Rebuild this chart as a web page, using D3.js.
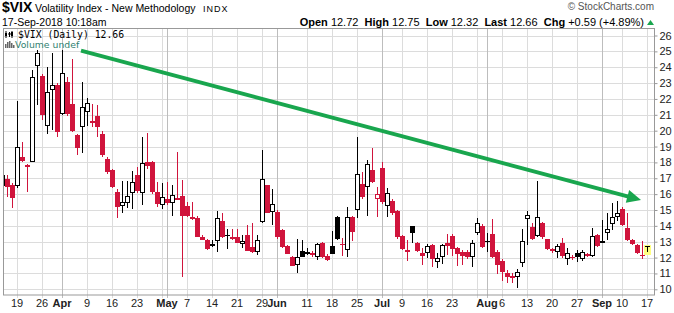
<!DOCTYPE html>
<html>
<head>
<meta charset="utf-8">
<script src="https://cdn.jsdelivr.net/npm/d3@7"></script>
<style>
  body { margin: 0; background: #fff; }
  svg { display: block; font-family: "Liberation Sans", Arial, sans-serif; }
</style>
</head>
<body>
<div id="chart"></div>
<script>
'use strict'

// trading days on the chart: weekdays from first to last day, minus exchange holidays
const firstDay = '2018-03-14'
const lastDay = '2018-09-17'
const holidays = ['2018-03-30', '2018-05-28', '2018-07-04', '2018-09-03']

// daily OHLC, one value per trading day
const open = [
  16.5, 16.94, 16.55, 16.53, 18.36, 17.7, 18.05, 24.08, 23.45, 20.3, 22.57, 22.88,
  21.05, 23.1, 21.68, 19.73, 20.25, 21.2, 20.6, 20.93, 19.8, 18.22, 17.52, 16.15,
  15.25, 15.46, 16.09, 17.21, 16.09, 18.05, 18.05, 16.15, 15.32, 15.67, 15.42, 15.67,
  15.86, 15.25, 14.43, 14.51, 13.28, 13.11, 12.82, 13.04, 14.31, 13.45, 13.15, 13.32,
  12.85, 13.42, 12.69, 12.33, 14.26, 16.58, 14.86, 14.86, 13.74, 12.75, 12.02, 11.53,
  12.43, 12.37, 12.27, 12.02, 12.94, 12.12, 12.73, 14.58, 12.85, 12.48, 14.54, 15.0,
  16.64, 16.43, 17.52, 15.67, 17.67, 15.27, 15.57, 14.94, 13.36, 12.37, 13.99, 12.94,
  12.31, 12.31, 12.79, 11.74, 12.06, 12.9, 13.36, 12.58, 12.37, 12.37, 12.06, 13.53,
  13.99, 13.02, 13.47, 12.37, 11.8, 11.05, 10.86, 10.79, 11.68, 14.41, 13.9, 13.36,
  14.16, 13.15, 12.52, 12.37, 12.94, 11.89, 12.06, 12.27, 11.89, 12.23, 12.1, 13.42,
  13.04, 13.57, 14.12, 14.58, 15.04, 13.85, 13.11, 12.79, 12.15, 12.72
]
const high = [
  17.3, 17.2, 16.7, 21.9, 19.3, 17.9, 23.8, 25.1, 23.6, 24.0, 24.9, 23.0,
  25.1, 23.4, 24.5, 19.8, 23.1, 22.04, 21.7, 21.6, 19.95, 18.36, 17.6, 16.3,
  16.83, 16.83, 17.46, 17.73, 19.62, 19.83, 18.1, 16.78, 16.68, 16.78, 16.58, 18.65,
  16.89, 15.52, 15.52, 14.6, 13.4, 13.2, 13.11, 14.94, 14.79, 13.8, 13.78, 13.78,
  13.42, 14.05, 14.2, 13.42, 18.78, 16.6, 16.31, 15.0, 13.8, 12.8, 12.1, 13.17,
  13.11, 12.58, 12.4, 12.9, 13.0, 12.2, 13.68, 14.65, 13.21, 15.21, 14.6, 19.58,
  17.42, 18.15, 18.93, 16.43, 18.0, 16.41, 15.7, 15.0, 13.4, 13.11, 14.0, 13.0,
  12.6, 12.85, 12.85, 12.31, 12.85, 13.47, 13.47, 12.65, 12.5, 12.5, 13.1, 14.48,
  14.1, 13.53, 14.41, 12.5, 11.9, 11.2, 11.0, 11.26, 13.78, 14.94, 14.2, 16.83,
  14.26, 13.2, 12.6, 12.85, 13.21, 12.58, 12.15, 12.45, 12.45, 12.3, 13.85, 13.5,
  14.37, 14.79, 15.42, 15.57, 15.17, 14.79, 13.2, 12.85, 13.06, 12.75
]
const low = [
  16.4, 15.84, 15.15, 16.4, 18.0, 16.15, 18.0, 21.6, 20.7, 19.8, 20.05, 19.58,
  21.0, 20.9, 19.9, 18.47, 18.57, 20.3, 20.25, 19.58, 18.36, 17.3, 16.37, 14.48,
  14.83, 15.1, 15.04, 16.1, 15.32, 17.6, 16.0, 15.2, 15.04, 15.3, 14.64, 15.6,
  10.76, 14.55, 14.4, 13.3, 13.08, 12.45, 12.69, 12.37, 13.25, 12.52, 13.1, 12.9,
  12.58, 12.4, 12.3, 12.16, 14.2, 14.8, 14.05, 13.2, 12.6, 12.2, 11.45, 11.05,
  12.03, 12.15, 12.05, 11.85, 11.95, 11.8, 12.2, 13.1, 12.1, 12.06, 13.06, 14.48,
  15.7, 14.62, 16.7, 14.54, 15.4, 14.58, 14.7, 13.2, 12.45, 11.8, 12.94, 12.35,
  11.53, 12.0, 11.42, 11.32, 11.6, 12.16, 12.1, 11.49, 11.53, 11.9, 11.42, 13.4,
  12.6, 12.37, 12.0, 10.96, 10.54, 10.42, 10.4, 10.06, 11.42, 12.79, 13.1, 13.3,
  13.2, 12.45, 12.3, 11.95, 11.95, 11.53, 11.85, 11.75, 11.8, 12.05, 12.05, 12.65,
  12.95, 13.11, 13.74, 14.3, 14.0, 13.05, 12.8, 12.2, 11.9, 12.32
]
const close = [
  17.2, 16.47, 15.75, 18.95, 18.1, 17.85, 23.37, 24.88, 21.0, 22.46, 22.86, 19.94,
  23.62, 21.05, 20.0, 18.89, 21.47, 21.77, 20.47, 20.21, 18.47, 17.42, 16.47, 15.17,
  15.52, 15.88, 16.78, 16.17, 17.94, 17.8, 16.15, 15.37, 15.84, 15.42, 15.95, 15.78,
  14.65, 14.62, 14.58, 13.32, 13.11, 12.52, 12.86, 14.51, 13.32, 13.42, 13.32, 12.94,
  13.06, 12.43, 12.37, 13.11, 16.94, 14.83, 15.36, 13.32, 12.69, 12.23, 11.49, 12.02,
  12.06, 12.21, 12.16, 12.84, 12.06, 11.85, 12.23, 13.16, 12.8, 14.54, 13.63, 17.27,
  15.84, 17.88, 16.78, 15.99, 15.52, 16.06, 14.83, 13.28, 12.54, 12.5, 13.53, 12.43,
  12.1, 12.73, 11.89, 11.95, 12.79, 12.75, 12.52, 12.23, 12.1, 12.02, 12.9, 14.16,
  12.69, 13.0, 12.06, 11.53, 11.11, 10.79, 10.69, 11.11, 13.04, 14.68, 13.15, 14.54,
  13.28, 12.52, 12.41, 12.75, 12.1, 12.27, 11.95, 12.02, 12.37, 12.1, 13.36, 12.73,
  13.06, 13.8, 14.54, 14.79, 14.05, 13.11, 12.86, 12.27, 12.07, 12.66
]
const prevClose = 16.3 // close of the day before the first bar

// axis labels
const yTicks = d3.range(10, 27)
const dayLabels = [
  ['2018-03-19', '19'], ['2018-03-26', '26'], ['2018-04-09', '9'], ['2018-04-16', '16'],
  ['2018-04-23', '23'], ['2018-05-07', '7'], ['2018-05-14', '14'], ['2018-05-21', '21'],
  ['2018-05-29', '29'], ['2018-06-11', '11'], ['2018-06-18', '18'], ['2018-06-25', '25'],
  ['2018-07-09', '9'], ['2018-07-16', '16'], ['2018-07-23', '23'], ['2018-08-06', '6'],
  ['2018-08-13', '13'], ['2018-08-20', '20'], ['2018-08-27', '27'], ['2018-09-10', '10'],
  ['2018-09-17', '17']
]
const monthLabels = [
  ['2018-04-02', 'Apr'], ['2018-05-01', 'May'], ['2018-06-01', 'Jun'],
  ['2018-07-02', 'Jul'], ['2018-08-01', 'Aug'], ['2018-09-04', 'Sep']
]
// week grid lines without a label
const extraWeekLines = ['2018-04-30', '2018-07-30']

// hand-drawn trend arrow: [day, fraction of a day after it, value]
const trendFrom = ['2018-04-05', 0.8, 25.05]
const trendTo = ['2018-09-13', 0.8, 15.63]

// header quote
const quote = [['Open', '12.72'], ['High', '12.75'], ['Low', '12.32'], ['Last', '12.66'], ['Chg', '+0.59 (+4.89%)']]

const W = 674
const H = 313
const plot = { left: 3, right: 654, top: 28.5, bottom: 295 }
const step = 5
const bodyW = 5
const red = '#d0143c'
const green = '#19a64e'

const parse = d3.utcParse('%Y-%m-%d')
const fmt = d3.utcFormat('%Y-%m-%d')
const days = d3.utcDays(parse(firstDay), d3.utcDay.offset(parse(lastDay), 1))
  .filter(d => d.getUTCDay() % 6 !== 0 && !holidays.includes(fmt(d)))
const dayIndex = new Map(days.map((d, i) => [fmt(d), i]))

const bars = days.map((d, i) => ({
  i, o: open[i], h: high[i], l: low[i], c: close[i],
  pc: i === 0 ? prevClose : close[i - 1]
}))

const x = d3.scaleLinear()
  .domain([0, days.length - 1])
  .range([plot.left - 1, plot.left - 1 + step * (days.length - 1)])

const y = d3.scaleLinear()
  .domain([10, 26])
  .range([289.3, 35.5])

const svg = d3.select('#chart')
  .append('svg')
    .attr('width', W)
    .attr('height', H)

// ---- header ----
svg.append('text')
  .attr('x', 2).attr('y', 12)
  .style('font-size', '14px').style('font-weight', 'bold')
  .text('$VIX')
svg.append('text')
  .attr('x', 35).attr('y', 12)
  .style('font-size', '10.5px')
  .text('Volatility Index - New Methodology')
svg.append('text')
  .attr('x', 203).attr('y', 11.5)
  .style('font-size', '9px').style('letter-spacing', '1px')
  .text('INDX')
svg.append('text')
  .attr('x', 2).attr('y', 25.5)
  .style('font-size', '10.5px')
  .text('17-Sep-2018 10:18am')
svg.append('text')
  .attr('x', 654).attr('y', 10)
  .attr('text-anchor', 'end')
  .style('font-size', '10px').style('fill', '#555')
  .text('\u00a9 StockCharts.com')

const q = svg.append('text')
  .attr('x', 644).attr('y', 25.5)
  .attr('text-anchor', 'end')
  .style('font-size', '11px')
quote.forEach(([k, v], j) => {
  q.append('tspan').style('font-weight', 'bold').text((j ? '  ' : '') + k)
  q.append('tspan').text(' ' + v)
})
q.attr('xml:space', 'preserve')
svg.append('path')
  .attr('d', 'M647,25L650.5,20L654,25Z')
  .attr('fill', green)

// ---- grid ----
const g = svg.append('g')

g.selectAll('.hgrid')
  .data(yTicks)
  .join('line')
    .attr('x1', plot.left).attr('x2', plot.right)
    .attr('y1', d => Math.round(y(d)) + 0.5).attr('y2', d => Math.round(y(d)) + 0.5)
    .attr('stroke', '#dcdcdc')

const weekDates = dayLabels.map(d => d[0]).concat(extraWeekLines)
g.selectAll('.vgrid')
  .data(weekDates)
  .join('line')
    .attr('x1', d => Math.round(x(dayIndex.get(d))) + 0.5)
    .attr('x2', d => Math.round(x(dayIndex.get(d))) + 0.5)
    .attr('y1', plot.top).attr('y2', plot.bottom + 3)
    .attr('stroke', '#dcdcdc')

g.selectAll('.mgrid')
  .data(monthLabels)
  .join('line')
    .attr('x1', d => Math.round(x(dayIndex.get(d[0]))) + 0.5)
    .attr('x2', d => Math.round(x(dayIndex.get(d[0]))) + 0.5)
    .attr('y1', plot.top).attr('y2', plot.bottom + 3)
    .attr('stroke', '#bdbdbd')

// frame
g.append('rect')
  .attr('x', plot.left + 0.5).attr('y', plot.top)
  .attr('width', plot.right - plot.left).attr('height', plot.bottom - plot.top)
  .attr('fill', 'none').attr('stroke', '#999')

// ---- axes ----
const yAxis = d3.axisRight(y)
  .tickValues(yTicks)
  .tickSize(3)
  .tickPadding(2)
  .tickFormat(d3.format('d'))
svg.append('g')
  .attr('transform', `translate(${plot.right + 0.5},0)`)
  .call(yAxis)
  .call(a => a.select('.domain').remove())
  .call(a => a.selectAll('line').attr('stroke', '#999'))
  .call(a => a.selectAll('text')
    .style('font-family', '"Liberation Sans", Arial, sans-serif')
    .style('font-size', '11px').attr('fill', '#222'))

const xl = svg.append('g')
xl.selectAll('.dl')
  .data(dayLabels)
  .join('text')
    .attr('x', d => x(dayIndex.get(d[0])))
    .attr('y', 306.5)
    .attr('text-anchor', 'middle')
    .style('font-size', '11px').attr('fill', '#222')
    .text(d => d[1])
xl.selectAll('.ml')
  .data(monthLabels)
  .join('text')
    .attr('x', d => x(dayIndex.get(d[0])))
    .attr('y', 306.5)
    .attr('text-anchor', 'middle')
    .style('font-size', '11px').style('font-weight', 'bold').attr('fill', '#222')
    .text(d => d[1])

// ---- candles ----
svg.append('clipPath').attr('id', 'plotclip')
  .append('rect')
    .attr('x', plot.left + 1).attr('y', plot.top)
    .attr('width', plot.right - plot.left - 1).attr('height', plot.bottom - plot.top)

const cg = svg.append('g').attr('clip-path', 'url(#plotclip)')
  .attr('shape-rendering', 'crispEdges')

const colorOf = d => d.c >= d.pc ? '#000' : red
const hollow = d => d.c > d.o

// last bar highlight
const lastBar = bars[bars.length - 1]
cg.append('rect')
  .attr('x', Math.round(x(lastBar.i)) - 3)
  .attr('y', y(lastBar.h) - 1)
  .attr('width', 7)
  .attr('height', y(lastBar.l) - y(lastBar.h) + 4)
  .attr('fill', '#ffff80')

const candle = cg.selectAll('.candle')
  .data(bars)
  .join('g')
    .attr('transform', d => `translate(${Math.round(x(d.i))},0)`)

candle.append('line')
  .attr('x1', 0.5).attr('x2', 0.5)
  .attr('y1', d => y(d.h)).attr('y2', d => y(d.l))
  .attr('stroke', colorOf)

candle.append('rect')
  .attr('x', d => hollow(d) ? -1.5 : -2)
  .attr('width', d => hollow(d) ? bodyW - 1 : bodyW)
  .attr('y', d => {
    const t = y(Math.max(d.o, d.c))
    return hollow(d) ? t + 0.5 : t
  })
  .attr('height', d => {
    const h = Math.max(1, Math.abs(y(d.o) - y(d.c)))
    return hollow(d) ? Math.max(1, h - 1) : h
  })
  .attr('fill', d => hollow(d) ? '#fff' : colorOf(d))
  .attr('stroke', d => hollow(d) ? colorOf(d) : 'none')

// ---- legend ----
const lg = svg.append('g')
// small candle icon
;[[6, 31, 38, 33, 36], [9.5, 32, 37, 33, 35], [12, 31, 38, 32, 36]].forEach(([cx, t, b, bt, bb]) => {
  lg.append('line').attr('x1', cx).attr('x2', cx).attr('y1', t).attr('y2', b).attr('stroke', '#000')
  lg.append('rect').attr('x', cx - 1).attr('y', bt).attr('width', 2).attr('height', bb - bt).attr('fill', '#000')
})
lg.append('text')
  .attr('x', 18).attr('y', 38)
  .style('font-family', '"DejaVu Sans Mono", monospace')
  .style('font-size', '9.8px')
  .text('$VIX (Daily) 12.66')
// volume icon
;[[5, 44], [7, 42], [9, 41], [11, 43], [13, 45]].forEach(([bx, t]) => {
  lg.append('rect').attr('x', bx).attr('y', t).attr('width', 1.5).attr('height', 48 - t).attr('fill', '#666')
})
lg.append('text')
  .attr('x', 15).attr('y', 47.5)
  .style('font-family', '"DejaVu Sans", sans-serif')
  .style('font-size', '9.3px').attr('fill', '#2f7f70')
  .text('Volume undef')

// ---- trend arrow ----
const tx = p => x(dayIndex.get(p[0]) + p[1])
const ty = p => y(p[2])
const x0 = tx(trendFrom), y0 = ty(trendFrom)
const x1 = tx(trendTo), y1 = ty(trendTo)
const len = Math.hypot(x1 - x0, y1 - y0)
const ux = (x1 - x0) / len, uy = (y1 - y0) / len
const headL = 14, headW = 6.5
const bx = x1 - ux * headL, by = y1 - uy * headL

svg.append('line')
  .attr('x1', x0).attr('y1', y0)
  .attr('x2', bx + ux * 1).attr('y2', by + uy * 1)
  .attr('stroke', green).attr('stroke-width', 3.8)
svg.append('path')
  .attr('d', d3.line()([
    [x1, y1],
    [bx - uy * headW, by + ux * headW],
    [bx + uy * headW, by - ux * headW]
  ]) + 'Z')
  .attr('fill', green)
</script>
</body>
</html>
